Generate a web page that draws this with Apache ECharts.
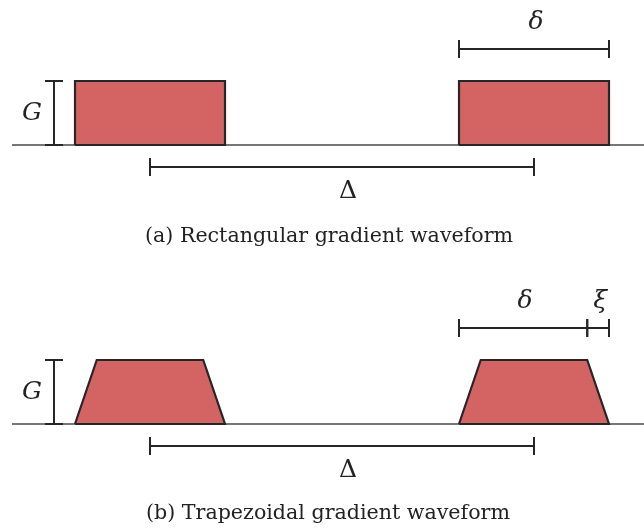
<!DOCTYPE html>
<html><head><meta charset="utf-8">
<script src="https://cdn.jsdelivr.net/npm/echarts@6/dist/echarts.min.js"></script>
<style>html,body{margin:0;padding:0;background:#fff}#c{width:644px;height:532px}</style>
</head><body><div id="c"></div>
<script>
// time unit: duration of the rectangular pulse = 10 ; gradient amplitude G = 1
const pulseStarts = [0, 25.6];     // onset of each pulse (Δ apart)
const rectDelta = 10;              // δ, rectangular waveform
const trapDelta = 8.55;            // δ, trapezoidal waveform (onset -> start of ramp-down)
const trapRamp = 1.45;             // ξ, ramp time
const amplitude = 1;               // G
const baselineRange = [-4.2, 37.93];
const captions = ['(a) Rectangular gradient waveform', '(b) Trapezoidal gradient waveform'];

// annotation brackets: [x1, y1, x2, y2, label]
const bracketsA = [
  [-1.4, 0, -1.4, 1, 'G'],
  [5, -0.344, 30.6, -0.344, 'Δ'],
  [25.6, 1.5, 35.6, 1.5, 'δ']
];
const bracketsB = [
  [-1.4, 0, -1.4, 1, 'G'],
  [5, -0.344, 30.6, -0.344, 'Δ'],
  [25.6, 1.5, 34.15, 1.5, 'δ'],
  [34.15, 1.5, 35.6, 1.5, 'ξ']
];

const FILL = '#d46464', INK = '#262626';
const FONT = 'DejaVu Serif';

function rectPulse(s) {
  return [[s, 0], [s, amplitude], [s + rectDelta, amplitude], [s + rectDelta, 0], [s, 0]];
}
function trapPulse(s) {
  return [[s, 0], [s + trapRamp, amplitude], [s + trapDelta, amplitude], [s + trapDelta + trapRamp, 0], [s, 0]];
}

function pulseSeries(pts, gi) {
  return {
    type: 'line', xAxisIndex: gi, yAxisIndex: gi, data: pts, symbol: 'none', silent: true,
    lineStyle: { color: INK, width: 2.2, join: 'miter' },
    areaStyle: { color: FILL, opacity: 1, origin: 0 },
    z: 3, animation: false
  };
}
function baselineSeries(gi) {
  return {
    type: 'line', xAxisIndex: gi, yAxisIndex: gi, symbol: 'none', silent: true,
    data: [[baselineRange[0], 0], [baselineRange[1], 0]],
    lineStyle: { color: '#4a4a4a', width: 1.6 }, z: 2, animation: false
  };
}
function bracketSeries(data, gi) {
  return {
    type: 'custom', xAxisIndex: gi, yAxisIndex: gi, silent: true, animation: false, z: 4,
    data: data,
    renderItem: function (params, api) {
      const p1 = api.coord([api.value(0), api.value(1)]);
      const p2 = api.coord([api.value(2), api.value(3)]);
      const label = data[params.dataIndex][4];
      const vertical = Math.abs(p1[0] - p2[0]) < 1;
      const h = 9;
      const st = { stroke: INK, lineWidth: 2 };
      const els = [{ type: 'line', shape: { x1: p1[0], y1: p1[1], x2: p2[0], y2: p2[1] }, style: st }];
      const mx = (p1[0] + p2[0]) / 2, my = (p1[1] + p2[1]) / 2;
      let tx, ty;
      if (vertical) {
        els.push({ type: 'line', shape: { x1: p1[0] - h, y1: p1[1], x2: p1[0] + h, y2: p1[1] }, style: st });
        els.push({ type: 'line', shape: { x1: p2[0] - h, y1: p2[1], x2: p2[0] + h, y2: p2[1] }, style: st });
        tx = mx - 22; ty = my;
      } else {
        els.push({ type: 'line', shape: { x1: p1[0], y1: p1[1] - h, x2: p1[0], y2: p1[1] + h }, style: st });
        els.push({ type: 'line', shape: { x1: p2[0], y1: p2[1] - h, x2: p2[0], y2: p2[1] + h }, style: st });
        tx = mx + (label === 'Δ' ? 6 : 2); ty = api.value(1) < 0 ? my + 24 : my - 27;
      }
      const italic = label !== 'Δ';
      els.push({ type: 'text', x: tx, y: ty, style: {
        text: label, fill: '#222', align: 'center', verticalAlign: 'middle',
        font: (italic ? 'italic ' : '') + '25px "' + FONT + '"'
      } });
      return { type: 'group', children: els };
    }
  };
}

const axisX = i => ({ type: 'value', gridIndex: i, min: -5, max: 37.9333, show: false });
const axisY = i => ({ type: 'value', gridIndex: i, min: -1.5, max: 2, show: false });
const capStyle = { fontFamily: FONT, fontWeight: 'normal', fontSize: 20.6, color: '#222' };

const chart = echarts.init(document.getElementById('c'), null, { renderer: 'canvas' });
chart.setOption({
  backgroundColor: '#fff',
  animation: false,
  grid: [
    { left: 0, width: 644, top: 17, height: 224 },
    { left: 0, width: 644, top: 296, height: 224 }
  ],
  xAxis: [axisX(0), axisX(1)],
  yAxis: [axisY(0), axisY(1)],
  title: [
    { text: captions[0], left: 140, top: 221, textStyle: capStyle },
    { text: captions[1], left: 141, top: 498, textStyle: capStyle }
  ],
  series: [
    baselineSeries(0), baselineSeries(1),
    ...pulseStarts.map(s => pulseSeries(rectPulse(s), 0)),
    ...pulseStarts.map(s => pulseSeries(trapPulse(s), 1)),
    bracketSeries(bracketsA, 0), bracketSeries(bracketsB, 1)
  ]
});
</script></body></html>
